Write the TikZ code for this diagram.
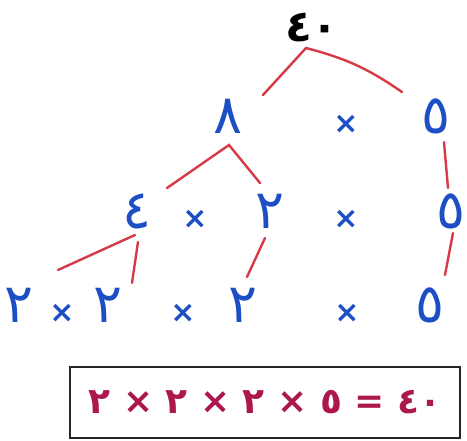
\documentclass[tikz,border=0pt]{standalone}
\usepackage{fontspec}
\TeXXeTstate=1
\newfontfamily\arabicfont[Script=Arabic]{DejaVu Sans}
\definecolor{factorblue}{RGB}{28,78,196}
\definecolor{branchred}{RGB}{214,58,70}
\definecolor{resultred}{RGB}{172,24,78}
\tikzset{
  digit/.style={text=factorblue, font=\arabicfont\fontsize{54}{58}\selectfont, inner sep=0pt, anchor=base},
  times/.style={text=factorblue, font=\arabicfont\bfseries\fontsize{30}{34}\selectfont, inner sep=0pt, anchor=base},
  branch/.style={draw=branchred, line width=2.4pt, line cap=round},
}
\begin{document}
\begin{tikzpicture}[x=1pt,y=1pt]
  \useasboundingbox (0,0) rectangle (467,-441);
  % top number
  \node[anchor=base, inner sep=0pt, font=\arabicfont\bfseries\fontsize{44}{48}\selectfont] (n40) at (312,-42) {٤٠};
  % first row
  \node[digit] (n8)  at (228,-134) {٨};
  \node[times] (x1)  at (346,-134) {×};
  \node[digit] (n5a) at (436,-134) {٥};
  % second row
  \node[digit] (n4)  at (137,-229) {٤};
  \node[times] (x2)  at (195,-229) {×};
  \node[digit] (n2a) at (270,-229) {٢};
  \node[times] (x3)  at (346,-229) {×};
  \node[digit] (n5b) at (451,-229) {٥};
  % third row
  \node[digit] (n2b) at (19,-323)  {٢};
  \node[times] (x4)  at (62,-323)  {×};
  \node[digit] (n2c) at (108,-323) {٢};
  \node[times] (x5)  at (183,-323) {×};
  \node[digit] (n2d) at (243,-323) {٢};
  \node[times] (x6)  at (347,-323) {×};
  \node[digit] (n5c) at (430,-323) {٥};
  % branches
  \draw[branch] ([shift={(35,39)}]n8.base) -- ([shift={(-6,-6)}]n40.base)
    to[bend left=10] ([shift={(-34,42)}]n5a.base);
  \draw[branch] ([shift={(30,41)}]n4.base) -- ([shift={(1,-11)}]n8.base)
    -- ([shift={(-10,46)}]n2a.base);
  \draw[branch] ([shift={(8,-8)}]n5a.base) -- ([shift={(-3,41)}]n5b.base);
  \draw[branch] ([shift={(39,53)}]n2b.base) -- ([shift={(-2,-6)}]n4.base);
  \draw[branch] ([shift={(1,-13)}]n4.base) -- ([shift={(24,40)}]n2c.base);
  \draw[branch] ([shift={(-5,-9)}]n2a.base) -- ([shift={(4,46)}]n2d.base);
  \draw[branch] ([shift={(2,-4)}]n5b.base) -- ([shift={(15,48)}]n5c.base);
  % result
  \node[draw=black!85, line width=1.8pt, minimum width=390pt, minimum height=71pt,
        text=resultred, font=\arabicfont\bfseries\fontsize{36}{40}\selectfont] (result) at (265,-402.5)
        {\beginL ٢ × ٢ × ٢ × ٥ = ٤٠\endL};
\end{tikzpicture}
\end{document}
